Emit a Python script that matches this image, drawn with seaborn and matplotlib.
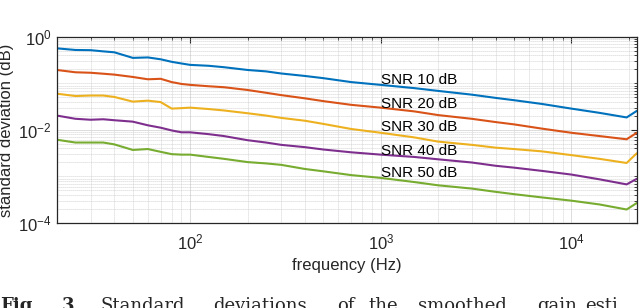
import numpy as np
import pandas as pd
import seaborn as sns
import matplotlib
matplotlib.use("Agg")
import matplotlib.pyplot as plt
from matplotlib.ticker import FixedLocator, NullFormatter, LogLocator

# frequency grid (Hz) and standard deviation (dB)
freq = [20, 25, 30, 35, 40, 50, 60, 70, 80, 90, 100, 125, 150, 200, 250, 300,
        400, 500, 700, 1000, 1500, 2000, 3000, 4000, 5000, 7000, 10000, 14000,
        19500, 22050]

snr_10 = [0.569, 0.525, 0.52, 0.490, 0.468, 0.355, 0.363, 0.331, 0.292, 0.269,
          0.251, 0.240, 0.224, 0.195, 0.182, 0.164, 0.145, 0.130, 0.107, 0.0933,
          0.0794, 0.0692, 0.0575, 0.0490, 0.0437, 0.0363, 0.0288, 0.0234,
          0.0186, 0.0257]
snr_20 = [0.195, 0.174, 0.170, 0.162, 0.155, 0.138, 0.123, 0.126, 0.107, 0.0977,
          0.0933, 0.0871, 0.0832, 0.0724, 0.0631, 0.0562, 0.0479, 0.0417, 0.0347,
          0.0302, 0.0251, 0.0209, 0.0174, 0.0148, 0.0132, 0.0107, 0.00871,
          0.00741, 0.00631, 0.00871]
snr_30 = [0.0603, 0.0537, 0.0550, 0.0550, 0.0513, 0.0407, 0.0427, 0.0398, 0.0288,
          0.0295, 0.0302, 0.0282, 0.0263, 0.0229, 0.0204, 0.0182, 0.0158, 0.0135,
          0.0105, 0.00871, 0.00692, 0.00562, 0.00479, 0.00417, 0.00389, 0.00347,
          0.00288, 0.00240, 0.00195, 0.00316]
snr_40 = [0.0204, 0.0174, 0.0166, 0.0170, 0.0162, 0.0151, 0.0126, 0.0112, 0.00977,
          0.00891, 0.00891, 0.00813, 0.00741, 0.00603, 0.00537, 0.00479, 0.00427,
          0.00380, 0.00331, 0.00295, 0.00263, 0.00234, 0.00200, 0.00170, 0.00155,
          0.00132, 0.00110, 0.000871, 0.000676, 0.000891]
snr_50 = [0.00617, 0.00537, 0.00537, 0.00537, 0.00490, 0.00372, 0.00389, 0.00339,
          0.00302, 0.00295, 0.00295, 0.00263, 0.00240, 0.00204, 0.00191, 0.00178,
          0.00145, 0.00129, 0.00107, 0.000933, 0.000759, 0.000646, 0.000550,
          0.000468, 0.000417, 0.000355, 0.000302, 0.000251, 0.000195, 0.000269]

series_names = ["SNR 10 dB", "SNR 20 dB", "SNR 30 dB", "SNR 40 dB", "SNR 50 dB"]
label_y = [0.117, 0.0368, 0.0115, 0.00347, 0.00117]
label_x = 1000
colors = ["#0072BD", "#D95319", "#EDB120", "#7E2F8E", "#77AC30"]

caption_words = ["Fig.", "3.", "Standard", "deviations", "of", "the",
                 "smoothed", "gain", "esti"]
caption_x = [0, 62, 100, 213, 337, 368, 418, 537, 585]

df = pd.concat([
    pd.DataFrame({"freq": freq, "std": vals, "snr": name})
    for name, vals in zip(series_names, [snr_10, snr_20, snr_30, snr_40, snr_50])
])

sns.set_style("white")
plt.rcParams["font.family"] = ["Liberation Sans", "DejaVu Sans"]
plt.rcParams["mathtext.fontset"] = "custom"
plt.rcParams["mathtext.rm"] = "Liberation Sans"
plt.rcParams["mathtext.it"] = "Liberation Sans:italic"

fig = plt.figure(figsize=(6.4, 3.08), dpi=100)
ax = fig.add_axes([0.089, 0.276, 0.906, 0.604])

sns.lineplot(data=df, x="freq", y="std", hue="snr", palette=colors,
             linewidth=1.5, legend=False, estimator=None, ax=ax)

ax.set_xscale("log")
ax.set_yscale("log")
ax.set_xlim(20, 22050)
ax.set_ylim(1e-4, 1)

ax.yaxis.set_major_locator(FixedLocator([1e-4, 1e-2, 1e0]))
ax.yaxis.set_minor_locator(FixedLocator(
    [m * 10.0 ** k for k in range(-4, 0) for m in range(1, 10) if not (m == 1 and k % 2 == 0)]))
ax.set_yticklabels(["$10^{-4}$", "$10^{-2}$", "$10^{0}$"])
ax.yaxis.set_minor_formatter(NullFormatter())
ax.xaxis.set_major_locator(FixedLocator([1e2, 1e3, 1e4]))
ax.set_xticklabels(["$10^{2}$", "$10^{3}$", "$10^{4}$"])
ax.xaxis.set_minor_locator(LogLocator(base=10, subs=np.arange(2, 10)))
ax.xaxis.set_minor_formatter(NullFormatter())

ax.set_axisbelow(True)
ax.grid(which="major", color="#dcdcdc", linestyle="-", linewidth=0.7)
ax.grid(which="minor", color="#c4c4c4", linestyle=(0, (1, 1.4)), linewidth=0.6)

ax.tick_params(which="both", direction="in", top=True, right=True,
               colors="#262626", labelcolor="#262626", labelsize=12)
ax.tick_params(which="major", length=4, width=0.8)
ax.tick_params(axis="x", which="major", pad=7)
ax.tick_params(axis="y", which="major", pad=4)
ax.tick_params(which="minor", length=2, width=0.6)
for sp in ax.spines.values():
    sp.set_color("#262626")
    sp.set_linewidth(0.9)

ax.set_xlabel("frequency (Hz)", fontsize=12, color="#262626", labelpad=4)
ax.set_ylabel("standard deviation (dB)", fontsize=12, color="#262626", labelpad=3)

for name, yv in zip(series_names, label_y):
    ax.text(label_x, yv, name, fontsize=11, ha="left", va="center", color="black")

for word, xp in zip(caption_words, caption_x):
    fig.text(xp / 640, 1 - 297 / 308, word, fontsize=13, va="top", ha="left",
             family="DejaVu Serif", weight="bold" if word in ("Fig.", "3.") else "normal")

fig.savefig("out.png", dpi=100)
